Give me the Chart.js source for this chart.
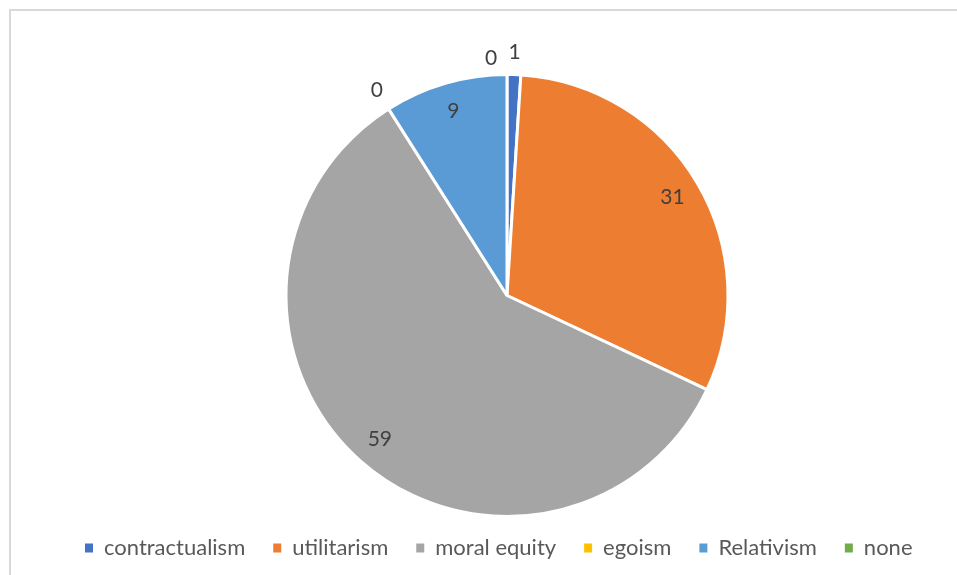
<!DOCTYPE html>
<html lang="en">

<head>
    <meta charset="UTF-8">
    <title>Ethical frameworks</title>
    <script src="https://cdn.jsdelivr.net/npm/chart.js"></script>
    <style>
        html, body { margin: 0; padding: 0; background: #fff; overflow: hidden; }
        .frame {
            position: absolute; left: 9px; top: 9px; width: 960px; height: 580px;
            border-left: 2px solid #d9d9d9; border-top: 2px solid #d9d9d9;
        }
        .wrap { position: absolute; left: 0; top: 0; width: 957px; height: 575px; }
    </style>
</head>

<body>
    <div class="frame"></div>
    <div class="wrap"><canvas id="pieChart"></canvas></div>

    <script>
        // valores
        const categories = ['contractualism', 'utilitarism', 'moral equity', 'egoism', 'Relativism', 'none'];
        const counts = [1, 31, 59, 0, 9, 0];
        const colors = ['#4472C4', '#ED7D31', '#A5A5A5', '#FFC000', '#5B9BD5', '#70AD47'];

        const fontFamily = 'Lato, "Open Sans", sans-serif';

        // rótulos de dados estilo Excel
        const sliceLabels = {
            id: 'sliceLabels',
            afterLayout(chart) {
                // sobe a legenda um pouco, mais perto da pizza
                chart.legend.top -= 9;
                chart.legend.bottom -= 9;
            },
            afterDatasetsDraw(chart) {
                const ctx = chart.ctx;
                const meta = chart.getDatasetMeta(0);
                ctx.save();
                ctx.font = '21px ' + fontFamily;
                ctx.fillStyle = '#404040';
                ctx.textBaseline = 'middle';
                meta.data.forEach((arc, i) => {
                    const p = arc.getProps(['x', 'y', 'startAngle', 'endAngle', 'outerRadius'], true);
                    const mid = (p.startAngle + p.endAngle) / 2;
                    const value = counts[i];
                    const outside = value < 3;
                    const d = outside ? p.outerRadius * 1.1 : p.outerRadius * 0.87;
                    let x = p.x + Math.cos(mid) * d;
                    let y = p.y + Math.sin(mid) * d;
                    ctx.textAlign = 'center';
                    if (outside && value === 0 && Math.abs(x - p.x) < 2) {
                        // evita sobreposição com o rótulo "1"
                        x -= 16;
                        y += 6;
                    }
                    ctx.fillText(String(value), x, y);
                });
                ctx.restore();
            }
        };

        const ctx = document.getElementById('pieChart').getContext('2d');
        new Chart(ctx, {
            type: 'pie',
            data: {
                labels: categories,
                datasets: [{
                    data: counts,
                    backgroundColor: colors,
                    borderColor: '#ffffff',
                    borderWidth: 3
                }]
            },
            options: {
                responsive: true,
                maintainAspectRatio: false,
                animation: false,
                layout: {
                    padding: { top: 73, bottom: -3, left: 57, right: 0 }
                },
                plugins: {
                    tooltip: { enabled: false },
                    legend: {
                        position: 'bottom',
                        align: 'start',
                        labels: {
                            boxWidth: 8,
                            boxHeight: 9,
                            padding: 28,
                            color: '#595959',
                            font: { family: fontFamily, size: 22 },
                            generateLabels(chart) {
                                const items = Chart.overrides.pie.plugins.legend.labels.generateLabels(chart);
                                items.forEach(it => { it.lineWidth = 0; });
                                return items;
                            }
                        }
                    }
                }
            },
            plugins: [sliceLabels]
        });
    </script>

</body>

</html>
